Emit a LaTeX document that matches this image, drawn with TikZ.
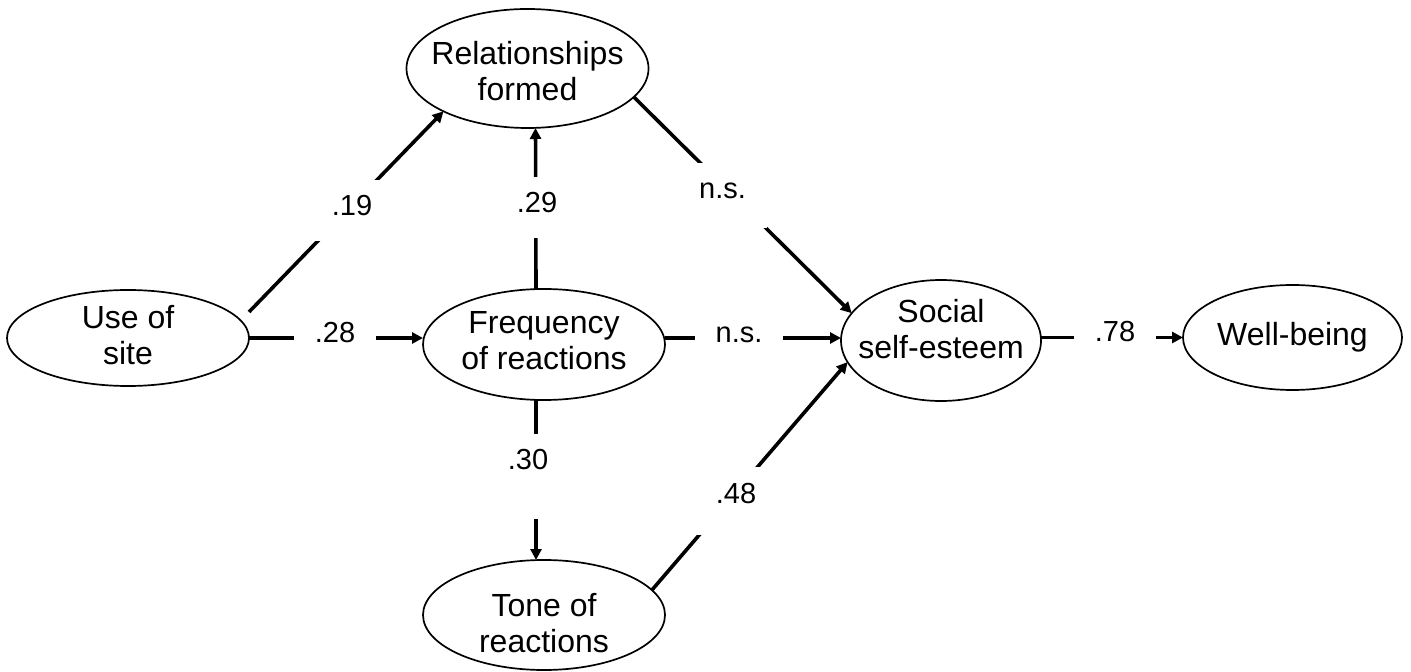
\documentclass[tikz,border=0pt]{standalone}
\usepackage{fontspec}
\setmainfont{Liberation Sans}
\usetikzlibrary{shapes.geometric,arrows.meta,calc}

\begin{document}
\begin{tikzpicture}[x=0.5pt,y=0.5pt,yscale=-1,xscale=1,
		var/.style={draw,ellipse,line width=0.85pt,inner sep=-20pt,outer sep=0pt,align=center,font=\fontsize{16}{18}\selectfont},
		link/.style={line width=1.8pt,-{Triangle[length=5.5pt,width=5.5pt]}},
		coef/.style={fill=white,anchor=base,inner xsep=10.5pt,inner ysep=0pt,text height=18pt,text depth=12.5pt,font=\fontsize{14.5}{17}\selectfont}]
		\useasboundingbox (0,0) rectangle (1411,672);
		\draw (128,338) node [var,minimum width=121pt,minimum height=48pt,text depth=3pt] (use) {Use of\\site};
		\draw (527.5,68.5) node [var,minimum width=121pt,minimum height=59.5pt,text height=32.5pt] (rel) {Relationships\\formed};
		\draw (544,344.5) node [var,minimum width=121pt,minimum height=55.5pt,text depth=4pt] (freq) {Frequency\\of reactions};
		\draw (544,615) node [var,minimum width=121pt,minimum height=55pt,text height=37.5pt] (tone) {Tone of\\reactions};
		\draw (941,340.5) node [var,minimum width=100pt,minimum height=60.5pt,text depth=12pt] (soc) {Social\\self-esteem};
		\draw (1292.5,337.5) node [var,minimum width=109.5pt,minimum height=52.5pt] (well) {Well-being};
		\draw [link] ($(use.east)+(0,-26)$) -- (rel.207);
		\draw [link] (use.east) -- (use.east -| freq.west);
		\draw [link] ($(freq.north)+(-8,0)$) -- ($(rel.south)+(8,0)$);
		\draw [link] ($(freq.south)+(-8,0)$) -- ($(tone.north)+(-8,0)$);
		\draw [link] (rel.-15) -- (soc.163);
		\draw [link] (freq.east |- use.east) -- (soc.west |- use.east);
		\draw [link] (tone.13) -- (soc.193);
		\draw [link] (soc.east |- well.west) -- (well.west);
		\draw (352,216) node [coef] (l19) {.19};
		\draw (335,343) node [coef] (l28) {.28};
		\draw (537,213) node [coef] (l29) {.29};
		\draw (528,470) node [coef,text depth=24.5pt] (l30) {.30};
		\draw (722.5,199) node [coef,text depth=14.5pt] (lns1) {n.s.};
		\draw (739,343) node [coef] (lns2) {n.s.};
		\draw (736,503) node [coef,text depth=16pt] (l48) {.48};
		\draw (1115,342) node [coef] (l78) {.78};
\end{tikzpicture}
\end{document}
